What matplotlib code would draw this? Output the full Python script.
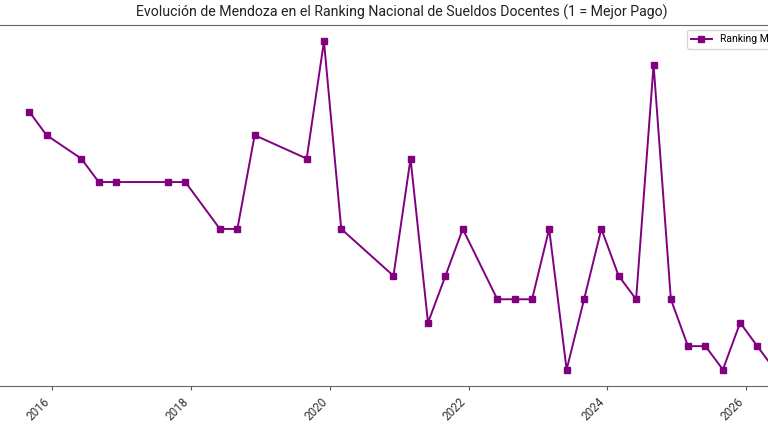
import numpy as np
import pandas as pd
import matplotlib
matplotlib.use('Agg')
import matplotlib.pyplot as plt
import matplotlib.dates as mdates

plt.rcParams['font.family'] = ['Roboto', 'DejaVu Sans']

# fechas (trimestrales, con huecos) y posicion en el ranking
fechas = ['2015-09-01', '2015-12-01', '2016-06-01', '2016-09-01', '2016-12-01',
          '2017-09-01', '2017-12-01', '2018-06-01', '2018-09-01', '2018-12-01',
          '2019-09-01', '2019-12-01', '2020-03-01', '2020-12-01', '2021-03-01',
          '2021-06-01', '2021-09-01', '2021-12-01', '2022-06-01', '2022-09-01',
          '2022-12-01', '2023-03-01', '2023-06-01', '2023-09-01', '2023-12-01',
          '2024-03-01', '2024-06-01', '2024-09-01', '2024-12-01', '2025-03-01',
          '2025-06-01', '2025-09-01', '2025-12-01', '2026-03-01', '2026-06-01']
ranking = [8, 9, 10, 11, 11,
           11, 11, 13, 13, 9,
           10, 5, 13, 15, 10,
           17, 15, 13, 16, 16,
           16, 13, 19, 16, 13,
           15, 16, 6, 16, 18,
           18, 19, 17, 18, 19]

fechas = pd.to_datetime(fechas)

fig = plt.figure(figsize=(7.68, 4.28), dpi=100)
ax = fig.add_axes([-8 / 768, 1 - 386 / 428, 820 / 768, 361 / 428])

ax.plot(fechas, ranking, marker='s', color='purple', linewidth=1.4,
        markersize=5, label='Ranking Mendoza')
ax.invert_yaxis()

ax.xaxis.set_major_locator(mdates.YearLocator(2))
ax.xaxis.set_major_formatter(mdates.DateFormatter('%Y'))
plt.setp(ax.get_xticklabels(), rotation=45, ha='right', fontsize=8.5, color='#333333')
ax.tick_params(axis='x', length=3, color='#555555')
ax.tick_params(axis='y', left=False, labelleft=False)

for s in ax.spines.values():
    s.set_color('#666666')

ax.set_title('Evolución de Mendoza en el Ranking Nacional de Sueldos Docentes (1 = Mejor Pago)',
             fontsize=10.2, color='#222222', pad=6)
ax.legend(loc='upper right', fontsize=7.5)

fig.savefig('out.png', dpi=100)
